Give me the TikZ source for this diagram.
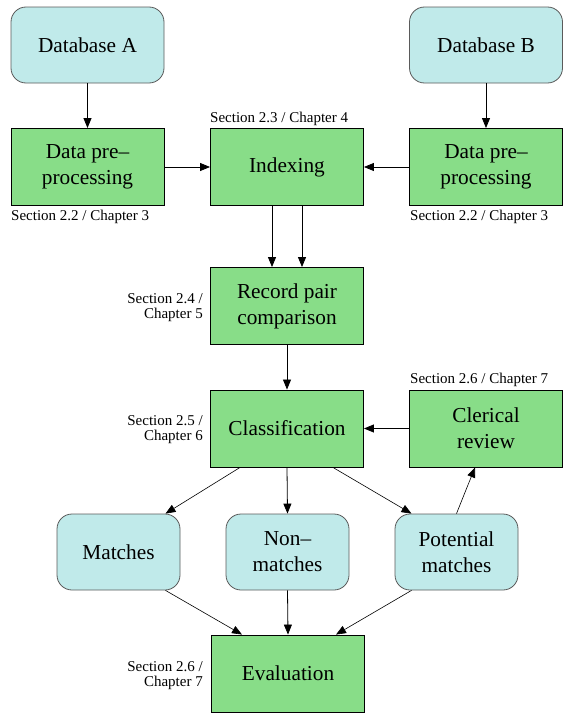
\documentclass[tikz,border=0pt]{standalone}
\usepackage{fontspec}
\setmainfont{Liberation Serif}
\usetikzlibrary{arrows.meta}
\definecolor{boxcyan}{RGB}{192,234,234}
\definecolor{boxgreen}{RGB}{136,221,136}
\definecolor{cyanborder}{RGB}{90,90,90}
\tikzset{
  dbbox/.style={draw=cyanborder, fill=boxcyan, rounded corners=15pt, line width=0.8pt,
    minimum width=153pt, minimum height=76pt, align=center, inner sep=0pt,
    font=\fontsize{21.3}{26}\selectfont},
  resbox/.style={dbbox, minimum width=123pt},
  stepbox/.style={draw=black, fill=boxgreen, line width=0.9pt,
    minimum width=153pt, minimum height=77pt, align=center, inner sep=0pt,
    font=\fontsize{21.3}{26}\selectfont},
  lbl/.style={font=\fontsize{15}{15}\selectfont, inner sep=0pt},
  arr/.style={-{Triangle[length=10pt,width=8pt]}, line width=0.8pt},
  darr/.style={-{Triangle[length=10pt,width=8pt]}, line width=0.6pt}
}
\begin{document}
\begin{tikzpicture}[x=1pt,y=-1pt]
\useasboundingbox (0,0) rectangle (581,720);
\node[dbbox] (dbA) at (87.5,45) {Database A};
\node[dbbox] (dbB) at (486,45) {Database B};
\node[stepbox] (ppA) at (87.5,167) {Data pre–\\processing};
\node[stepbox] (idx) at (287,167) {Indexing};
\node[stepbox] (ppB) at (486,167) {Data pre–\\processing};
\node[stepbox] (rec) at (287,306) {Record pair\\comparison};
\node[stepbox] (cls) at (287,428.5) {Classification};
\node[stepbox] (cler) at (486,428.5) {Clerical\\review};
\node[resbox] (mat) at (118.5,552) {Matches};
\node[resbox] (non) at (287.5,552) {Non–\\matches};
\node[resbox] (pot) at (456.5,552) {Potential\\matches};
\node[stepbox] (eval) at (288,673.5) {Evaluation};

\node[lbl, anchor=west] (l1) at (11,217) {Section 2.2 / Chapter 3};
\node[lbl, anchor=west] (l2) at (410,217) {Section 2.2 / Chapter 3};
\node[lbl, anchor=west] (l3) at (210,119) {Section 2.3 / Chapter 4};
\node[lbl, anchor=west] (l4) at (410,380) {Section 2.6 / Chapter 7};
\node[lbl, anchor=east, align=right] (l5) at (203,307.5) {Section 2.4 /\\Chapter 5};
\node[lbl, anchor=east, align=right] (l6) at (203,430) {Section 2.5 /\\Chapter 6};
\node[lbl, anchor=east, align=right] (l7) at (203,675.5) {Section 2.6 /\\Chapter 7};

\draw[arr] (dbA.south) -- (ppA.north);
\draw[arr] (dbB.south) -- (ppB.north);
\draw[arr] (ppA.east) -- (idx.west);
\draw[arr] (ppB.west) -- (idx.east);
\draw[arr] ([xshift=-15pt]idx.south) -- ([xshift=-15pt]rec.north);
\draw[arr] ([xshift=15pt]idx.south) -- ([xshift=15pt]rec.north);
\draw[arr] (rec.south) -- (cls.north);
\draw[arr] (cler.west) -- (cls.east);
\draw[darr] ([xshift=-47pt]cls.south) -- ([xshift=47pt]mat.north);
\draw[arr] (cls.south) -- (non.north);
\draw[darr] ([xshift=46pt]cls.south) -- ([xshift=-45pt]pot.north);
\draw[darr] (pot.north) -- ([xshift=-11pt]cler.south);
\draw[darr] ([xshift=47pt]mat.south) -- ([xshift=-46pt]eval.north);
\draw[arr] (non.south) -- (eval.north);
\draw[darr] ([xshift=-45pt]pot.south) -- ([xshift=48pt]eval.north);
\end{tikzpicture}
\end{document}
